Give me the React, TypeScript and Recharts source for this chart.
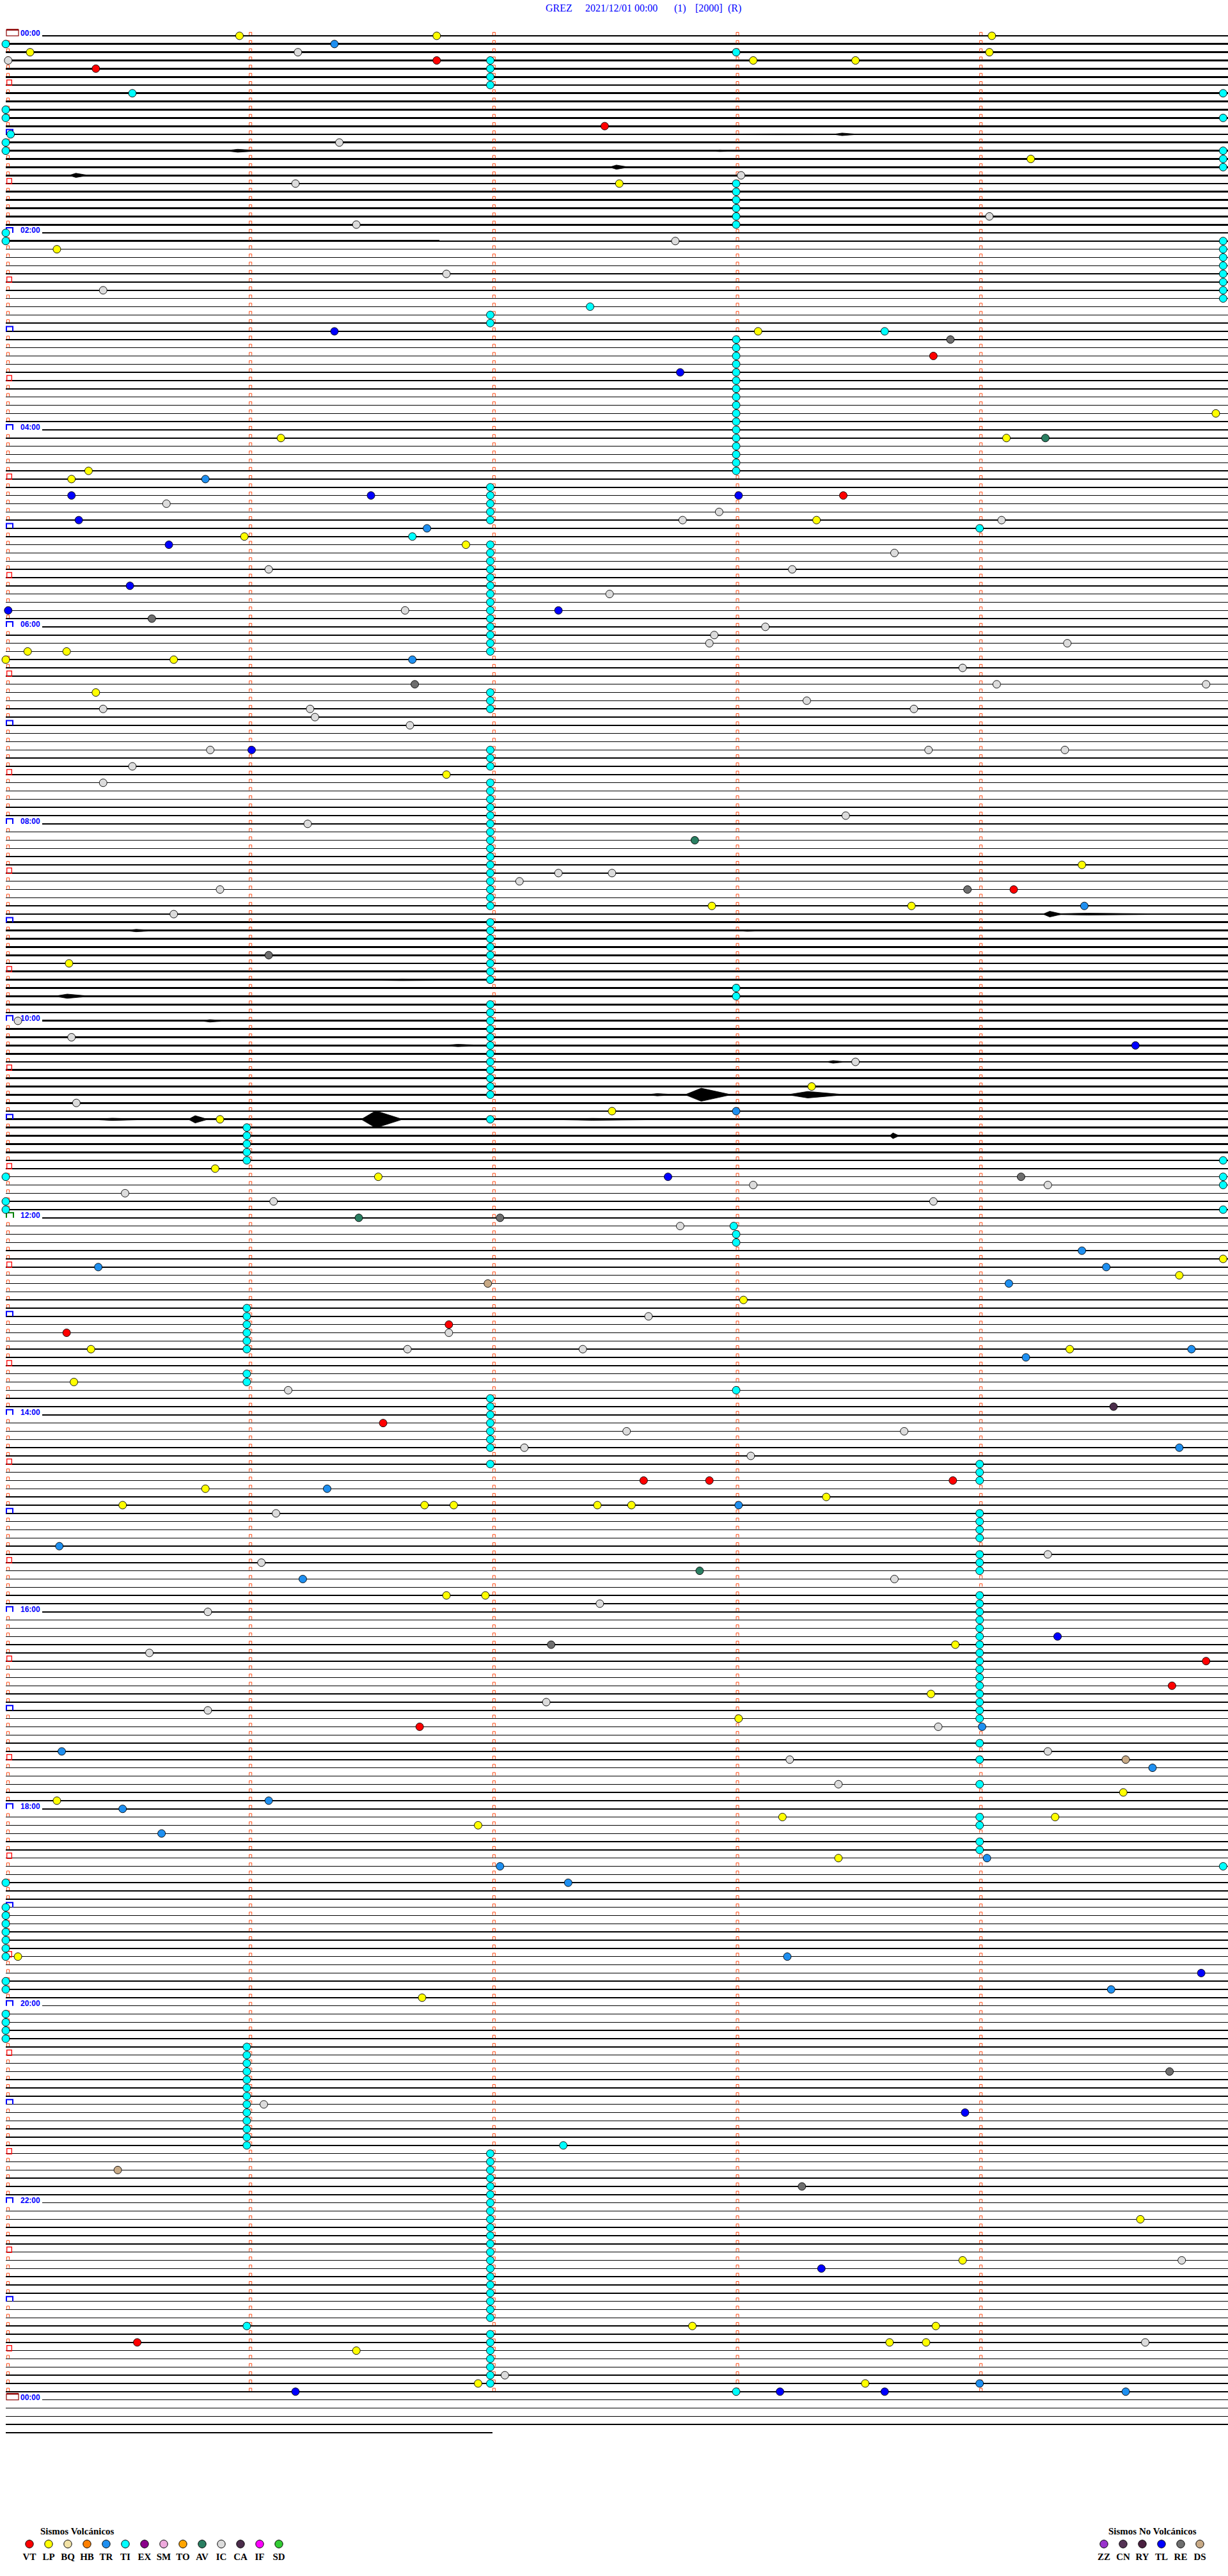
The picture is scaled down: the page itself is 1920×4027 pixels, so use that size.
import React from 'react';
import { ScatterChart, Scatter, XAxis, YAxis, ReferenceLine, ReferenceArea } from 'recharts';

// Helicorder GREZ 2021/12/01 - one trace row every 5 minutes, minute marks on each row
const dayRows = 288;
const extraRows = 4;
const lastRowEnd = 2.0; // minutes drawn on the final, partial row
const minuteTicks = [1, 2, 3, 4];
const hourLabels = ['00:00', '02:00', '04:00', '06:00', '08:00', '10:00', '12:00', '14:00', '16:00', '18:00', '20:00', '22:00', '00:00'];

const X_MAX = 5.02;
const Y_MAX = dayRows + extraRows;

// rows where the trace is noisy: [firstRow, lastRow]
const noisyRanges: [number, number][] = [[0, 24], [108, 136]];
// partially noisy rows: [row, fromMinute, toMinute]
const noisyPartials: [number, number, number][] = [[25, 0, 1.78], [107, 0.69, X_MAX]];
// bursts: [row, fromMinute, toMinute, amplitude (rows)]
const bursts: [number, number, number, number][] = [
  [12, 2.45, 4.5, 0.05], [12, 3.4, 3.5, 0.16], [14, 0.75, 1.27, 0.06], [14, 0.9, 1.05, 0.18], [14, 2.88, 3.03, 0.1],
  [16, 2.48, 2.56, 0.26], [17, 0.26, 0.34, 0.26], [107, 4.24, 4.82, 0.12], [107, 4.26, 4.34, 0.35], [109, 0.49, 0.62, 0.15],
  [109, 3.0, 3.13, 0.1], [115, 1.4, 2.05, 0.1], [117, 0.2, 0.35, 0.26], [120, 0.8, 0.91, 0.15], [123, 1.79, 1.98, 0.14],
  [125, 3.37, 3.45, 0.16], [129, 2.63, 2.76, 0.14], [129, 2.79, 2.98, 0.8], [129, 3.21, 3.45, 0.4], [132, 1.46, 1.63, 1.05],
  [132, 0.75, 0.83, 0.45], [132, 0.35, 0.6, 0.14], [132, 2.2, 2.8, 0.12], [134, 3.63, 3.67, 0.35],
];

// events: [row, minute within row]
const eventsVT: [number, number][] = [
  [3, 1.77], [4, 0.37], [11, 2.46], [39, 3.81], [56, 3.44], [104, 4.14], [157, 1.82], [158, 0.25], [169, 1.55],
  [176, 2.62], [176, 2.89], [176, 3.89], [198, 4.93], [201, 4.79], [206, 1.7], [281, 0.54],
];
const eventsLP: [number, number][] = [
  [0, 0.96], [0, 1.77], [0, 4.05], [2, 0.1], [2, 4.04], [3, 3.07], [3, 3.49], [15, 4.21], [18, 2.52], [26, 0.21],
  [36, 3.09], [46, 4.97], [49, 1.13], [49, 4.11], [53, 0.34], [54, 0.27], [59, 3.33], [61, 0.98], [62, 1.89],
  [75, 0.09], [75, 0.25], [76, 0], [76, 0.69], [80, 0.37], [90, 1.81], [101, 4.42], [106, 2.9], [106, 3.72],
  [113, 0.26], [128, 3.31], [131, 2.49], [132, 0.88], [138, 0.86], [139, 1.53], [149, 5.0], [151, 4.82], [154, 3.03],
  [160, 0.35], [160, 4.37], [164, 0.28], [177, 0.82], [178, 3.37], [179, 0.48], [179, 1.72], [179, 1.84], [179, 2.43],
  [179, 2.57], [190, 1.81], [190, 1.97], [196, 3.9], [202, 3.8], [205, 3.01], [214, 4.59], [215, 0.21], [217, 3.19],
  [217, 4.31], [218, 1.94], [222, 3.42], [234, 0.05], [239, 1.71], [266, 4.66], [271, 3.93], [279, 2.82], [279, 3.82],
  [281, 3.63], [281, 3.78], [282, 1.44], [286, 1.94], [286, 3.53],
];
const eventsTR: [number, number][] = [
  [1, 1.35], [54, 0.82], [60, 1.73], [76, 1.67], [106, 4.43], [131, 3.0], [148, 4.42], [150, 0.38], [150, 4.52],
  [152, 4.12], [160, 4.87], [161, 4.19], [172, 4.82], [177, 1.32], [179, 3.01], [184, 0.22], [188, 1.22], [206, 4.01],
  [209, 0.23], [211, 4.71], [215, 1.08], [216, 0.48], [219, 0.64], [222, 4.03], [223, 2.03], [225, 2.31], [234, 3.21],
  [238, 4.54], [286, 4.0], [287, 4.6],
];
const eventsTI: [number, number][] = [
  [1, 0], [2, 3.0], [3, 1.99], [4, 1.99], [5, 1.99], [6, 1.99], [7, 0.52], [7, 5.0], [9, 0], [10, 0], [10, 5.0],
  [12, 0.02], [13, 0], [14, 0], [14, 5.0], [15, 5.0], [16, 5.0],
  [18, 3.0], [19, 3.0], [20, 3.0], [21, 3.0], [22, 3.0], [23, 3.0],
  [24, 0], [25, 0], [25, 5.0], [26, 5.0], [27, 5.0], [28, 5.0], [29, 5.0], [30, 5.0], [31, 5.0], [32, 5.0],
  [33, 2.4], [34, 1.99], [35, 1.99], [36, 3.61],
  [37, 3.0], [38, 3.0], [39, 3.0], [40, 3.0], [41, 3.0], [42, 3.0], [43, 3.0], [44, 3.0], [45, 3.0], [46, 3.0],
  [47, 3.0], [48, 3.0], [49, 3.0], [50, 3.0], [51, 3.0], [52, 3.0], [53, 3.0],
  [55, 1.99], [56, 1.99], [57, 1.99], [58, 1.99], [59, 1.99], [60, 4.0], [61, 1.67],
  [62, 1.99], [63, 1.99], [64, 1.99], [65, 1.99], [66, 1.99], [67, 1.99], [68, 1.99], [69, 1.99], [70, 1.99],
  [71, 1.99], [72, 1.99], [73, 1.99], [74, 1.99], [75, 1.99],
  [80, 1.99], [81, 1.99], [82, 1.99], [87, 1.99], [88, 1.99], [89, 1.99],
  [91, 1.99], [92, 1.99], [93, 1.99], [94, 1.99], [95, 1.99], [96, 1.99], [97, 1.99], [98, 1.99], [99, 1.99],
  [100, 1.99], [101, 1.99], [102, 1.99], [103, 1.99], [104, 1.99], [105, 1.99], [106, 1.99],
  [108, 1.99], [109, 1.99], [110, 1.99], [111, 1.99], [112, 1.99], [113, 1.99], [114, 1.99], [115, 1.99],
  [116, 3.0], [117, 3.0],
  [118, 1.99], [119, 1.99], [120, 1.99], [121, 1.99], [122, 1.99], [123, 1.99], [124, 1.99], [125, 1.99],
  [126, 1.99], [127, 1.99], [128, 1.99], [129, 1.99], [132, 1.99],
  [133, 0.99], [134, 0.99], [135, 0.99], [136, 0.99], [137, 0.99], [137, 5.0], [139, 0], [139, 5.0], [140, 5.0],
  [142, 0], [143, 0], [143, 5.0], [145, 2.99], [146, 3.0], [147, 3.0],
  [155, 0.99], [156, 0.99], [157, 0.99], [158, 0.99], [159, 0.99], [160, 0.99], [163, 0.99], [164, 0.99], [165, 3.0],
  [166, 1.99], [167, 1.99], [168, 1.99], [169, 1.99], [170, 1.99], [171, 1.99], [172, 1.99], [174, 1.99],
  [174, 4.0], [175, 4.0], [176, 4.0], [180, 4.0], [181, 4.0], [182, 4.0], [183, 4.0], [185, 4.0], [186, 4.0], [187, 4.0],
  [190, 4.0], [191, 4.0], [192, 4.0], [193, 4.0], [194, 4.0], [195, 4.0], [196, 4.0], [197, 4.0], [198, 4.0],
  [199, 4.0], [200, 4.0], [201, 4.0], [202, 4.0], [203, 4.0], [204, 4.0], [205, 4.0],
  [208, 4.0], [210, 4.0], [213, 4.0], [217, 4.0], [218, 4.0], [220, 4.0], [221, 4.0], [223, 5.0],
  [225, 0], [228, 0], [229, 0], [230, 0], [231, 0], [232, 0], [233, 0], [234, 0], [237, 0], [238, 0],
  [241, 0], [242, 0], [243, 0], [244, 0],
  [245, 0.99], [246, 0.99], [247, 0.99], [248, 0.99], [249, 0.99], [250, 0.99], [251, 0.99], [252, 0.99],
  [253, 0.99], [254, 0.99], [255, 0.99], [256, 0.99], [257, 0.99], [257, 2.29],
  [258, 1.99], [259, 1.99], [260, 1.99], [261, 1.99], [262, 1.99], [263, 1.99], [264, 1.99], [265, 1.99],
  [266, 1.99], [267, 1.99], [268, 1.99], [269, 1.99], [270, 1.99], [271, 1.99], [272, 1.99], [273, 1.99],
  [274, 1.99], [275, 1.99], [276, 1.99], [277, 1.99], [278, 1.99], [279, 0.99],
  [280, 1.99], [281, 1.99], [282, 1.99], [283, 1.99], [284, 1.99], [285, 1.99], [286, 1.99], [287, 3.0],
];
const eventsAV: [number, number][] = [[49, 4.27], [98, 2.83], [144, 1.45], [187, 2.85]];
const eventsIC: [number, number][] = [
  [2, 1.2], [3, 0.01], [13, 1.37], [17, 3.02], [18, 1.19], [22, 4.04], [23, 1.44], [25, 2.75], [29, 1.81], [31, 0.4],
  [57, 0.66], [58, 2.93], [59, 2.78], [59, 4.09], [63, 3.65], [65, 1.08], [65, 3.23], [68, 2.48], [70, 1.64],
  [72, 3.12], [73, 2.91], [74, 2.89], [74, 4.36], [77, 3.93], [79, 4.07], [79, 4.93], [81, 3.29], [82, 0.4],
  [82, 1.25], [82, 3.73], [83, 1.27], [84, 1.66], [87, 0.84], [87, 3.79], [87, 4.35], [89, 0.52], [91, 0.4],
  [95, 3.45], [96, 1.24], [102, 2.27], [102, 2.49], [103, 2.11], [104, 0.88], [107, 0.69], [120, 0.05], [122, 0.27],
  [125, 3.49], [130, 0.29], [140, 3.07], [140, 4.28], [141, 0.49], [142, 1.1], [142, 3.81], [145, 2.77], [156, 2.64],
  [158, 1.82], [160, 1.65], [160, 2.37], [165, 1.16], [170, 2.55], [170, 3.69], [172, 2.13], [173, 3.06], [180, 1.11],
  [185, 4.28], [186, 1.05], [188, 3.65], [191, 2.44], [192, 0.83], [197, 0.59], [203, 2.22], [204, 0.83], [206, 3.83],
  [209, 4.28], [210, 3.22], [213, 3.42], [252, 1.06], [271, 4.83], [281, 4.68], [285, 2.05],
];
const eventsCA: [number, number][] = [[167, 4.55]];
const eventsTL: [number, number][] = [
  [36, 1.35], [41, 2.77], [56, 0.27], [56, 1.5], [56, 3.01], [59, 0.3], [62, 0.67], [67, 0.51], [70, 0.01],
  [70, 2.27], [87, 1.01], [123, 4.64], [139, 2.72], [195, 4.32], [236, 4.91], [253, 3.94], [272, 3.35], [287, 1.19],
  [287, 3.18], [287, 3.61],
];
const eventsRE: [number, number][] = [
  [37, 3.88], [71, 0.6], [79, 1.68], [104, 3.95], [112, 1.08], [139, 4.17], [144, 2.03], [196, 2.24], [248, 4.78], [262, 3.27],
];
const eventsDS: [number, number][] = [[152, 1.98], [210, 4.6], [260, 0.46]];

const volcanicTypes = ['VT', 'LP', 'BQ', 'HB', 'TR', 'TI', 'EX', 'SM', 'TO', 'AV', 'IC', 'CA', 'IF', 'SD'];
const nonVolcanicTypes = ['ZZ', 'CN', 'RY', 'TL', 'RE', 'DS'];

const typeColors: Record<string, string> = {
  VT: '#ff0000', LP: '#ffff00', BQ: '#f2e2a6', HB: '#ff8000', TR: '#1e8ff0', TI: '#00ffff', EX: '#8b008b',
  SM: '#eeaadd', TO: '#ffa500', AV: '#2a7f62', IC: '#dcdcdc', CA: '#4b2d4b', IF: '#ff00ff', SD: '#33cc33',
  ZZ: '#9932cc', CN: '#553355', RY: '#4a2040', TL: '#0000ff', RE: '#6e6e6e', DS: '#c8aa86',
};

const eventSeries: [string, [number, number][]][] = [
  ['TI', eventsTI], ['IC', eventsIC], ['LP', eventsLP], ['TR', eventsTR], ['TL', eventsTL],
  ['VT', eventsVT], ['RE', eventsRE], ['AV', eventsAV], ['DS', eventsDS], ['CA', eventsCA],
];

const toPoints = (list: [number, number][]) => list.map(([row, minute]) => ({ x: minute, y: row }));

const allRows = Array.from({ length: dayRows + extraRows }, (_, i) => i);
const markedRows = allRows.filter((r) => r < dayRows);

const rowKind = (r: number) => {
  if (r % dayRows === 0) return 'day';
  if (r === dayRows / 2) return 'noon';
  if (r % 24 === 0) return 'label';
  if (r % 12 === 0) return 'hour';
  if (r % 6 === 0) return 'half';
  return 'minor';
};

const rowMarks = [...markedRows, dayRows].map((r) => ({
  x: 0,
  y: r,
  kind: rowKind(r),
  label: r % 24 === 0 ? hourLabels[r / 24] : '',
}));

const minuteMarks = markedRows.flatMap((r) => minuteTicks.map((m) => ({ x: m, y: r })));

const MARK = '#ff4a14';

const smallMark = (cx: number, cy: number) => (
  <path d={`M${cx + 1.5},${cy - 1}V${cy - 5.5}H${cx + 5.5}V${cy - 1}`} fill="none" stroke={MARK} strokeWidth={1} />
);

const RowMark = (p: any) => {
  const { cx, cy, payload } = p;
  const kind = payload.kind;
  if (kind === 'minor') return smallMark(cx, cy);
  if (kind === 'half')
    return <rect x={cx + 1.7} y={cy - 8} width={7.6} height={8.5} fill="none" stroke="#ff0000" strokeWidth={1.3} />;
  if (kind === 'hour')
    return <path d={`M${cx + 1},${cy}V${cy - 7.5}H${cx + 11}V${cy}`} fill="none" stroke="#0000ff" strokeWidth={2} />;
  const text = (
    <text x={cx + 23} y={cy} fontFamily="'Liberation Sans', Arial, sans-serif" fontWeight="bold" fontSize={12} fill="#0000ff">
      {payload.label}
    </text>
  );
  const cover = <rect x={cx - 1} y={cy - 11} width={58} height={13} fill="#fff" />;
  if (kind === 'day')
    return (
      <g>
        {cover}
        <rect x={cx + 1} y={cy - 9.5} width={19} height={9.5} fill="#fff" stroke="#8b0000" strokeWidth={1.2} />
        <line x1={cx + 1} x2={cx + 20} y1={cy - 9.5} y2={cy - 9.5} stroke="#8b0000" strokeWidth={2.5} />
        {text}
      </g>
    );
  if (kind === 'noon')
    return (
      <g>
        {cover}
        <path d={`M${cx + 1},${cy}V${cy - 8}H${cx + 12}V${cy}`} fill="none" stroke="#008000" strokeWidth={2} />
        {text}
      </g>
    );
  return (
    <g>
      {cover}
      <path d={`M${cx + 1},${cy}V${cy - 8}H${cx + 11}V${cy}`} fill="none" stroke="#0000ff" strokeWidth={2} />
      {text}
    </g>
  );
};

const MinuteMark = (p: any) => smallMark(p.cx - 1.5, p.cy);

const dotShape = (fill: string) => (p: any) => (
  <circle cx={p.cx} cy={p.cy} r={6} fill={fill} stroke="#000" strokeWidth={0.9} />
);

const spindle = (p: any) => {
  const { x, y, width, height } = p;
  const mid = y + height / 2;
  return (
    <path
      d={`M${x},${mid}L${x + width * 0.35},${y}L${x + width},${mid}L${x + width * 0.35},${y + height}Z`}
      fill="#000"
      stroke="#000"
      strokeWidth={0.8}
    />
  );
};

const serif = "'Liberation Serif', 'Times New Roman', serif";

const Overlay = () => (
  <svg width={1920} height={4027} style={{ position: 'absolute', left: 0, top: 0, pointerEvents: 'none' }}>
    <g fontFamily={serif} fontSize={16} fill="#0000ff">
      <text x={853} y={18}>GREZ</text>
      <text x={915} y={18}>2021/12/01 00:00</text>
      <text x={1054} y={18}>(1)</text>
      <text x={1087} y={18}>[2000]</text>
      <text x={1138} y={18}>(R)</text>
    </g>
    <g fontFamily={serif} fontWeight="bold" fontSize={15} fill="#000">
      <text x={63} y={3962}>Sismos Volcánicos</text>
      {volcanicTypes.map((t, i) => (
        <g key={t}>
          <circle cx={46 + i * 30} cy={3977} r={6.2} fill={typeColors[t]} stroke="#000" strokeWidth={1} />
          <text x={46 + i * 30} y={4002} textAnchor="middle">{t}</text>
        </g>
      ))}
      <text x={1733} y={3962}>Sismos No Volcánicos</text>
      {nonVolcanicTypes.map((t, i) => (
        <g key={t}>
          <circle cx={1726 + i * 30} cy={3977} r={6.2} fill={typeColors[t]} stroke="#000" strokeWidth={1} />
          <text x={1726 + i * 30} y={4002} textAnchor="middle">{t}</text>
        </g>
      ))}
    </g>
  </svg>
);

export default function App() {
  const noisyRows = noisyRanges.flatMap(([a, b]) => allRows.filter((r) => r >= a && r <= b));
  return (
    <div style={{ position: 'absolute', left: 0, top: 0, width: 1920, height: 4027, background: '#fff', overflow: 'hidden' }}>
      <ScatterChart width={1920} height={4027} margin={{ top: 56, right: 0, bottom: 224, left: 9 }}>
        <XAxis type="number" dataKey="x" domain={[0, X_MAX]} hide />
        <YAxis type="number" dataKey="y" domain={[0, Y_MAX]} reversed hide />
        {allRows.map((r) => (
          <ReferenceLine key={`row-${r}`} y={r} stroke="#000" strokeWidth={1.5} shapeRendering="crispEdges" />
        ))}
        <ReferenceLine
          segment={[{ x: 0, y: Y_MAX }, { x: lastRowEnd, y: Y_MAX }]}
          stroke="#000"
          strokeWidth={1.5}
          shapeRendering="crispEdges"
        />
        {noisyRows.map((r) => (
          <ReferenceLine key={`noisy-${r}`} y={r} stroke="#000" strokeWidth={2.8} shapeRendering="crispEdges" />
        ))}
        {noisyPartials.map(([r, a, b]) => (
          <ReferenceLine
            key={`np-${r}`}
            segment={[{ x: a, y: r }, { x: b, y: r }]}
            stroke="#000"
            strokeWidth={2.8}
            shapeRendering="crispEdges"
          />
        ))}
        {bursts.map(([r, a, b, amp], i) => (
          <ReferenceArea key={`burst-${i}`} x1={a} x2={b} y1={r - amp} y2={r + amp} shape={spindle} />
        ))}
        <Scatter data={minuteMarks} shape={MinuteMark} isAnimationActive={false} />
        <Scatter data={rowMarks} shape={RowMark} isAnimationActive={false} />
        {eventSeries.map(([type, list]) => (
          <Scatter key={type} data={toPoints(list)} shape={dotShape(typeColors[type])} isAnimationActive={false} />
        ))}
      </ScatterChart>
      <Overlay />
    </div>
  );
}
